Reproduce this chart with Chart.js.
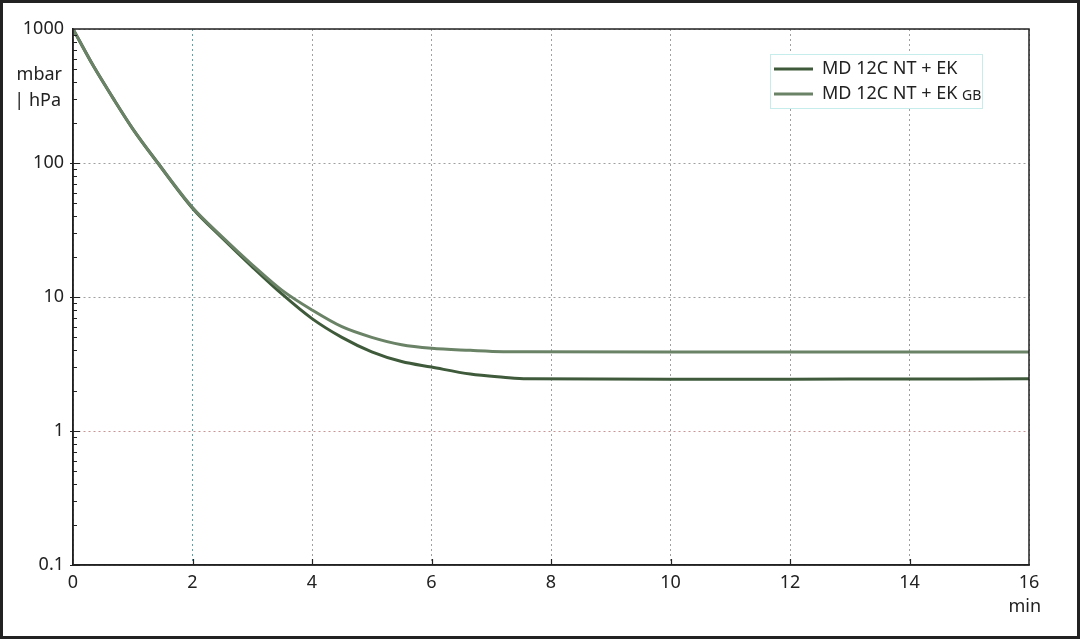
<!DOCTYPE html>
<html>
<head>
<meta charset="utf-8">
<script src="https://cdn.jsdelivr.net/npm/chart.js@4.4.1/dist/chart.umd.min.js"></script>
<style>
  html, body { margin: 0; padding: 0; background: #fff; }
  #wrap { width: 1080px; height: 639px; position: relative; }
</style>
</head>
<body>
<div id="wrap"><canvas id="chart-pumpdown"></canvas></div>
<script>
const timeMin = [0, 0.33, 0.67, 1, 1.42, 2, 2.5, 3, 3.5, 4, 4.5, 5, 5.5, 6, 6.65, 7.2, 7.6, 10, 13, 16];
const pressureEK = [1000, 540, 305, 180, 100, 46, 27.5, 16.8, 10.5, 6.9, 5.0, 3.9, 3.3, 3.0, 2.66, 2.52, 2.45, 2.43, 2.44, 2.45];
const pressureEKGB = [1000, 540, 305, 180, 100, 46.5, 28, 17.4, 11.2, 8.0, 6.0, 5.0, 4.4, 4.14, 4.0, 3.91, 3.9, 3.89, 3.89, 3.89];
const yTicks = [0.1, 1, 10, 100, 1000];
const seriesLabels = ['MD 12C NT + EK', 'MD 12C NT + EK'];
const seriesSuffix = ['', 'GB'];

const FONT = '"Noto Sans", "Open Sans", sans-serif';
const darkGreen = '#3e5a3a';
const lightGreen = '#6a8266';

function points(ys) {
    return timeMin.map((t, i) => ({ x: t, y: ys[i] }));
}

// frame, minor ticks, unit labels and legend
const decorations = {
    id: 'decorations',
    afterDraw(chart) {
        const ctx = chart.ctx;
        const area = chart.chartArea;
        const y = chart.scales.y;
        const x = chart.scales.x;
        ctx.save();

        ctx.strokeStyle = '#222';
        ctx.lineWidth = 1.5;
        ctx.strokeRect(area.left, area.top, area.right - area.left, area.bottom - area.top);

        // inward tick marks
        ctx.lineWidth = 1.2;
        ctx.beginPath();
        for (let d = 0.1; d < 1000; d *= 10) {
            for (let m = 1; m <= 9; m++) {
                const py = Math.round(y.getPixelForValue(d * m)) + 0.5;
                const len = m === 1 ? 7 : 4;
                ctx.moveTo(area.left - (m === 1 ? 3 : 0), py);
                ctx.lineTo(area.left + len, py);
            }
        }
        for (let t = 2; t < 16; t += 2) {
            const px = Math.round(x.getPixelForValue(t)) + 0.5;
            ctx.moveTo(px, area.bottom);
            ctx.lineTo(px, area.bottom - 6);
        }
        ctx.stroke();

        // unit labels
        ctx.fillStyle = '#222';
        ctx.font = '18px ' + FONT;
        ctx.textBaseline = 'middle';
        ctx.textAlign = 'right';
        ctx.fillText('mbar', 62, 75);
        ctx.fillText('| hPa', 61, 101);
        ctx.fillText('min', 1041, 607);

        // legend
        const lx = 770, ly = 54, lw = 212, lh = 54;
        ctx.fillStyle = '#fff';
        ctx.fillRect(lx, ly, lw, lh);
        ctx.strokeStyle = '#c6ecec';
        ctx.lineWidth = 1;
        ctx.strokeRect(lx + 0.5, ly + 0.5, lw, lh);
        chart.data.datasets.forEach((ds, i) => {
            const cy = ly + 15 + i * 25;
            ctx.strokeStyle = ds.borderColor;
            ctx.lineWidth = 3;
            ctx.beginPath();
            ctx.moveTo(lx + 4, cy);
            ctx.lineTo(lx + 43, cy);
            ctx.stroke();
            ctx.fillStyle = '#222';
            ctx.textAlign = 'left';
            ctx.font = '18px ' + FONT;
            ctx.fillText(seriesLabels[i], lx + 52, cy);
            if (seriesSuffix[i]) {
                const w = ctx.measureText(seriesLabels[i] + ' ').width;
                ctx.font = '14px ' + FONT;
                ctx.fillText(seriesSuffix[i], lx + 52 + w, cy + 2);
            }
        });

        // outer frame
        ctx.strokeStyle = '#222';
        ctx.lineWidth = 3;
        ctx.strokeRect(1.5, 1.5, chart.width - 3, chart.height - 3);
        ctx.restore();
    }
};

new Chart(document.getElementById('chart-pumpdown'), {
    type: 'line',
    data: {
        datasets: [{
            label: seriesLabels[0],
            data: points(pressureEK),
            borderColor: darkGreen,
            borderWidth: 3,
            pointRadius: 0,
            cubicInterpolationMode: 'monotone',
            order: 1,
        }, {
            label: seriesLabels[1] + ' ' + seriesSuffix[1],
            data: points(pressureEKGB),
            borderColor: lightGreen,
            borderWidth: 3,
            pointRadius: 0,
            cubicInterpolationMode: 'monotone',
            order: 0,
        }]
    },
    options: {
        responsive: true,
        maintainAspectRatio: false,
        animation: false,
        layout: { padding: { top: 29, right: 51, bottom: 0, left: 0 } },
        plugins: {
            legend: { display: false },
            tooltip: { enabled: false },
        },
        scales: {
            x: {
                type: 'linear',
                min: 0,
                max: 16,
                ticks: {
                    stepSize: 2,
                    padding: 7,
                    color: '#222',
                    font: { family: FONT, size: 18 },
                },
                grid: {
                    drawTicks: false,
                    lineWidth: 1,
                    color: (c) => c.tick && c.tick.value === 2 ? '#5aa3ad' : '#a0a0a0',
                },
                border: { display: true, color: '#222', width: 1.5, dash: [2, 3] },
                afterFit(scale) { scale.height = 74; },
            },
            y: {
                type: 'logarithmic',
                min: 0.1,
                max: 1000,
                afterBuildTicks(scale) {
                    scale.ticks = yTicks.map(v => ({ value: v }));
                },
                ticks: {
                    padding: 9,
                    color: '#222',
                    font: { family: FONT, size: 18 },
                    callback: (v) => String(v),
                },
                grid: {
                    drawTicks: false,
                    lineWidth: 1,
                    color: (c) => c.tick && c.tick.value === 1 ? '#c99494' : '#a0a0a0',
                },
                border: { display: true, color: '#222', width: 1.5, dash: [2, 3] },
                afterFit(scale) { scale.width = 73; },
            }
        }
    },
    plugins: [decorations]
});
</script>
</body>
</html>
